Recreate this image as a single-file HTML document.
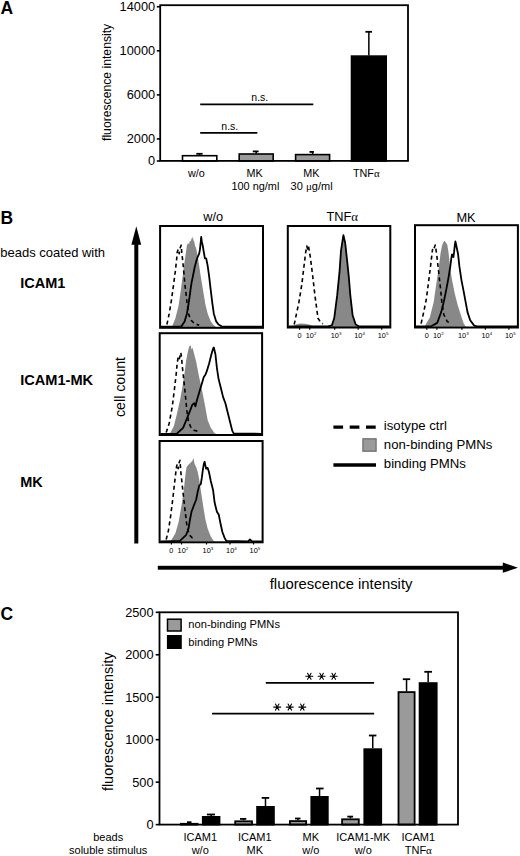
<!DOCTYPE html>
<html><head><meta charset="utf-8"><style>
html,body{margin:0;padding:0;background:#fff;}
svg{display:block;}
text{font-family:"Liberation Sans",sans-serif;fill:#000;}
</style></head><body>
<svg width="520" height="856" viewBox="0 0 520 856">
<rect width="520" height="856" fill="#fff"/>
<text x="0.5" y="13.8" font-size="17.5" text-anchor="start" font-weight="bold" >A</text>
<line x1="199.65" y1="155.2" x2="199.65" y2="153.8" stroke="#000" stroke-width="1.5" />
<line x1="196.3" y1="153.8" x2="202.6" y2="153.8" stroke="#000" stroke-width="1.8" />
<rect x="182.5" y="155.7" width="34.30" height="5.30" fill="#fff" stroke="#000" stroke-width="1.6"/>
<line x1="256.2" y1="153.5" x2="256.2" y2="151.4" stroke="#000" stroke-width="1.5" />
<line x1="252.8" y1="151.4" x2="258.6" y2="151.4" stroke="#000" stroke-width="1.8" />
<rect x="239.2" y="154.0" width="34.00" height="7.00" fill="#9a9a9a" stroke="#000" stroke-width="1.6"/>
<line x1="312.6" y1="154.1" x2="312.6" y2="151.9" stroke="#000" stroke-width="1.5" />
<line x1="309.5" y1="151.9" x2="313.9" y2="151.9" stroke="#000" stroke-width="1.8" />
<rect x="295.6" y="154.6" width="34.00" height="6.40" fill="#9a9a9a" stroke="#000" stroke-width="1.6"/>
<line x1="368.85" y1="55.6" x2="368.85" y2="31.8" stroke="#000" stroke-width="1.5" />
<line x1="365.4" y1="31.8" x2="372.0" y2="31.8" stroke="#000" stroke-width="1.8" />
<rect x="351.5" y="56.1" width="34.70" height="104.90" fill="#000" stroke="#000" stroke-width="1.6"/>
<rect x="160.2" y="5.2" width="247.80" height="155.70" fill="none" stroke="#000" stroke-width="1.8"/>
<line x1="156.8" y1="161.0" x2="160.2" y2="161.0" stroke="#000" stroke-width="1.6" />
<text x="155.2" y="165.0" font-size="12.8" text-anchor="end" >0</text>
<line x1="156.8" y1="138.96428571428572" x2="160.2" y2="138.96428571428572" stroke="#000" stroke-width="1.6" />
<text x="155.2" y="143.0" font-size="12.8" text-anchor="end" >2000</text>
<line x1="156.8" y1="94.89285714285714" x2="160.2" y2="94.89285714285714" stroke="#000" stroke-width="1.6" />
<text x="155.2" y="98.9" font-size="12.8" text-anchor="end" >6000</text>
<line x1="156.8" y1="50.82142857142857" x2="160.2" y2="50.82142857142857" stroke="#000" stroke-width="1.6" />
<text x="155.2" y="54.8" font-size="12.8" text-anchor="end" >10000</text>
<line x1="156.8" y1="6.75" x2="160.2" y2="6.75" stroke="#000" stroke-width="1.6" />
<text x="155.2" y="10.8" font-size="12.8" text-anchor="end" >14000</text>
<text transform="translate(111.4 82.4) rotate(-90)" font-size="12.2" text-anchor="middle">fluorescence intensity</text>
<line x1="200.2" y1="104.4" x2="313.3" y2="104.4" stroke="#000" stroke-width="1.9" />
<line x1="200.2" y1="132.9" x2="257.3" y2="132.9" stroke="#000" stroke-width="1.9" />
<text x="259.8" y="100.5" font-size="10.5" text-anchor="middle" >n.s.</text>
<text x="229.8" y="129.8" font-size="10.5" text-anchor="middle" >n.s.</text>
<text x="196.4" y="176.9" font-size="10.8" text-anchor="middle" >w/o</text>
<text x="254.5" y="176.9" font-size="10.8" text-anchor="middle" >MK</text>
<text x="255.4" y="189.6" font-size="10.9" text-anchor="middle" >100 ng/ml</text>
<text x="311.4" y="176.9" font-size="10.8" text-anchor="middle" >MK</text>
<text x="311.6" y="189.6" font-size="11" text-anchor="middle" >30 <tspan font-family="Liberation Serif, serif">μ</tspan>g/ml</text>
<text x="366.3" y="176.9" font-size="10.8" text-anchor="middle" >TNF<tspan font-family="Liberation Serif, serif">α</tspan></text>
<text x="0.5" y="224.2" font-size="17.5" text-anchor="start" font-weight="bold" >B</text>
<text x="0.3" y="256.9" font-size="13.0" text-anchor="start" >beads coated with</text>
<text x="20.2" y="287.8" font-size="14.5" text-anchor="start" font-weight="bold" >ICAM1</text>
<text x="20.2" y="384.9" font-size="14.6" text-anchor="start" font-weight="bold" >ICAM1-MK</text>
<text x="20.2" y="487.3" font-size="14.5" text-anchor="start" font-weight="bold" >MK</text>
<rect x="134.3" y="243" width="4" height="300.5" fill="#000"/>
<polygon points="136.3,226.3 131.4,244.8 141.2,244.8" fill="#000"/>
<rect x="157.8" y="565.8" width="346" height="3.9" fill="#000"/>
<polygon points="518,567.7 502.8,562.6 502.8,572.8" fill="#000"/>
<text transform="translate(125.3 387) rotate(-90)" font-size="14.2" text-anchor="middle">cell count</text>
<text x="341.1" y="588.7" font-size="14.85" text-anchor="middle" >fluorescence intensity</text>
<text x="213.2" y="221.2" font-size="12.8" text-anchor="middle" >w/o</text>
<text x="342.2" y="221.0" font-size="12.8" text-anchor="middle" >TNF<tspan font-family="Liberation Serif, serif">α</tspan></text>
<text x="466.0" y="221.6" font-size="12.8" text-anchor="middle" >MK</text>
<polygon points="170.5,327.0 172.3,326.0 175.4,318.3 178.5,306.0 180.8,290.6 182.8,275.2 184.6,261.4 186.2,250.6 186.9,245.2 188.0,242.9 188.9,244.2 190.0,240.6 190.8,241.4 191.5,238.3 192.3,239.1 192.9,236.0 193.5,240.6 194.2,241.4 195.1,246.0 196.2,248.3 196.9,252.2 197.7,256.8 199.2,266.0 200.8,276.8 203.1,290.6 205.4,304.5 207.7,313.7 210.8,321.4 213.8,325.2 216.0,327.0" fill="#888" stroke="none"/>
<polyline points="166.9,324.5 169.2,313.7 171.5,299.8 173.8,282.9 175.4,270.6 176.6,259.8 177.2,252.2 178.2,249.1 179.2,253.7 180.3,247.5 181.2,245.2 181.8,252.9 182.8,261.4 183.8,272.2 184.9,284.5 186.2,295.2 187.4,306.0 188.9,315.2 191.5,320.6 194.6,323.7 199.2,325.2" fill="none" stroke="#000" stroke-width="1.6" stroke-dasharray="4 3.2" stroke-linejoin="round"/>
<polyline points="161.0,326.6 181.5,326.3 184.6,321.4 186.9,313.7 188.5,304.5 190.0,293.7 191.5,282.9 193.1,275.2 194.6,267.5 196.2,261.4 197.7,256.8 199.2,253.7 200.0,249.1 200.8,241.4 201.2,236.8 201.8,241.4 202.8,246.0 203.8,252.2 204.9,258.3 206.2,258.3 207.7,266.0 209.2,276.8 210.8,290.6 212.3,302.9 213.8,313.7 216.2,321.4 218.5,324.5 221.5,326.3 262.0,326.6" fill="none" stroke="#000" stroke-width="1.8" stroke-linejoin="round"/>
<rect x="160.1" y="226" width="102.90" height="101.80" fill="none" stroke="#000" stroke-width="2"/>
<polygon points="169.5,434.2 173.8,426.3 176.9,414.0 180.0,400.2 182.3,387.8 184.6,372.5 186.2,360.2 187.7,352.5 189.2,346.3 190.8,345.5 191.5,349.4 192.6,347.8 193.8,352.5 196.2,361.7 198.5,374.0 200.8,384.8 203.1,395.5 205.4,407.8 207.7,420.2 210.8,427.8 214.6,433.2 217.0,434.2" fill="#888" stroke="none"/>
<polyline points="166.2,432.5 169.2,423.2 172.3,406.3 174.6,387.8 176.2,374.0 177.2,363.2 178.2,357.1 179.2,359.4 180.8,352.5 181.5,357.1 182.3,366.3 183.8,380.2 185.4,395.5 186.9,410.9 188.5,421.7 190.8,427.1 193.8,430.2 197.7,431.2" fill="none" stroke="#000" stroke-width="1.6" stroke-dasharray="4 3.2" stroke-linejoin="round"/>
<polyline points="160.6,433.8 176.9,433.6 183.1,427.8 186.9,418.6 190.0,410.9 192.3,404.8 194.2,403.2 195.4,406.3 196.9,400.2 199.2,392.5 201.5,384.8 203.8,377.1 205.4,374.8 206.9,370.9 209.2,363.2 211.5,354.0 213.1,348.6 213.8,347.5 215.4,354.0 216.9,367.8 218.5,378.6 220.8,387.8 223.1,397.1 225.4,403.2 227.7,412.5 230.0,421.7 232.3,430.9 233.8,433.6 261.0,433.8" fill="none" stroke="#000" stroke-width="1.8" stroke-linejoin="round"/>
<rect x="159.7" y="333.2" width="102.40" height="101.80" fill="none" stroke="#000" stroke-width="2"/>
<polygon points="170.5,541.5 175.4,533.3 178.5,522.5 181.5,505.6 183.8,490.2 185.4,474.8 186.5,467.2 187.7,465.6 189.2,464.1 190.8,462.5 192.3,461.0 193.5,457.9 194.6,464.1 196.2,467.2 197.7,471.8 199.2,479.5 200.8,490.2 203.1,505.6 205.4,519.5 207.7,528.7 210.8,536.4 213.1,540.2 215.0,541.5" fill="#888" stroke="none"/>
<polyline points="166.2,539.5 168.5,530.2 170.8,514.8 173.1,496.4 174.6,482.5 175.7,473.3 176.6,466.4 177.2,464.1 178.2,468.7 179.2,462.5 180.0,460.2 180.8,471.8 182.3,485.6 183.8,499.5 185.4,513.3 186.9,525.6 189.2,534.8 192.3,537.9 195.4,538.7" fill="none" stroke="#000" stroke-width="1.6" stroke-dasharray="4 3.2" stroke-linejoin="round"/>
<polyline points="160.5,541.3 180.0,540.8 183.1,537.9 186.2,534.8 188.5,528.7 190.0,519.5 191.5,511.8 193.8,505.6 196.2,499.5 197.7,491.8 199.2,485.6 200.8,484.1 201.8,477.9 202.8,470.2 203.8,464.1 204.6,461.8 205.4,465.6 206.2,468.7 207.7,467.9 208.9,471.8 210.8,481.0 213.1,490.2 214.6,502.5 216.9,511.8 218.8,514.8 220.3,522.5 222.3,531.8 224.6,537.9 226.2,540.8 248.0,541.3 250.0,539.5 252.0,541.3 261.7,541.3" fill="none" stroke="#000" stroke-width="1.8" stroke-linejoin="round"/>
<rect x="159.6" y="441" width="103.00" height="101.30" fill="none" stroke="#000" stroke-width="2"/>
<polygon points="331.8,327.0 334.2,318.3 337.2,295.2 339.5,272.2 341.0,250.6 343.4,235.2 345.2,243.0 347.2,261.4 348.8,276.8 350.3,295.2 352.6,315.2 355.7,324.5 358.8,327.0" fill="#888" stroke="none"/>
<polygon points="292.0,327.0 296.0,324.5 300.0,323.6 305.0,323.8 310.0,324.8 314.0,327.0" fill="#888" stroke="none"/>
<polyline points="294.2,324.5 298.8,302.9 301.8,284.5 304.2,264.5 305.7,252.2 306.8,246.0 307.6,249.0 308.5,246.0 310.3,256.8 312.6,275.2 314.9,295.2 318.0,318.3 321.0,322.9 323.0,323.7" fill="none" stroke="#000" stroke-width="1.6" stroke-dasharray="4 3.2" stroke-linejoin="round"/>
<polyline points="288.7,326.5 328.0,326.3 331.8,325.5 334.2,318.3 337.2,295.2 339.5,272.2 341.0,250.6 343.4,235.2 345.2,243.0 347.2,261.4 348.8,276.8 350.3,295.2 352.6,315.2 355.7,324.5 358.8,326.3 389.4,326.5" fill="none" stroke="#000" stroke-width="1.8" stroke-linejoin="round"/>
<rect x="287.8" y="226" width="102.50" height="101.50" fill="none" stroke="#000" stroke-width="2"/>
<polygon points="424.4,326.8 429.8,317.5 433.8,301.4 436.5,282.5 438.6,269.1 440.6,252.9 441.9,246.2 443.3,242.2 444.6,240.8 446.0,242.8 447.3,244.8 448.6,252.9 450.0,266.4 452.0,279.8 454.7,293.3 457.4,304.1 460.8,314.8 463.5,322.9 465.5,326.3 467.0,326.8" fill="#888" stroke="none"/>
<polyline points="421.1,323.6 423.7,312.1 426.4,298.7 428.5,282.5 430.5,266.4 431.8,255.6 432.5,249.6 433.2,250.9 435.2,245.0 436.5,252.9 437.9,265.0 439.2,277.1 440.6,289.3 441.9,302.7 443.9,314.8 447.3,321.6 451.3,323.6" fill="none" stroke="#000" stroke-width="1.6" stroke-dasharray="4 3.2" stroke-linejoin="round"/>
<polyline points="415.9,326.5 431.2,326.3 437.2,322.9 441.2,312.1 443.9,301.4 446.6,287.9 448.6,277.1 450.3,266.4 451.3,258.3 452.0,254.3 453.4,257.0 454.0,252.9 454.7,246.2 455.4,241.5 456.7,247.5 458.1,254.3 459.4,266.4 461.4,279.8 463.5,290.6 465.5,301.4 467.5,312.1 470.2,320.2 474.2,325.6 477.0,326.3 517.0,326.5" fill="none" stroke="#000" stroke-width="1.8" stroke-linejoin="round"/>
<rect x="415" y="225.2" width="102.90" height="102.30" fill="none" stroke="#000" stroke-width="2"/>
<line x1="171.4" y1="542.3" x2="171.4" y2="544.5" stroke="#000" stroke-width="1.2" />
<text x="171.4" y="552.9" font-size="7.3" text-anchor="middle" >0</text>
<line x1="181.5" y1="542.3" x2="181.5" y2="544.5" stroke="#000" stroke-width="1.2" />
<text x="177.6" y="552.9" font-size="7.3">10<tspan font-size="4.4" dy="-2.7">2</tspan></text>
<line x1="206.5" y1="542.3" x2="206.5" y2="544.5" stroke="#000" stroke-width="1.2" />
<text x="202.6" y="552.9" font-size="7.3">10<tspan font-size="4.4" dy="-2.7">3</tspan></text>
<line x1="230.0" y1="542.3" x2="230.0" y2="544.5" stroke="#000" stroke-width="1.2" />
<text x="226.1" y="552.9" font-size="7.3">10<tspan font-size="4.4" dy="-2.7">4</tspan></text>
<line x1="253.5" y1="542.3" x2="253.5" y2="544.5" stroke="#000" stroke-width="1.2" />
<text x="249.6" y="552.9" font-size="7.3">10<tspan font-size="4.4" dy="-2.7">5</tspan></text>
<line x1="299.6" y1="327.5" x2="299.6" y2="329.7" stroke="#000" stroke-width="1.2" />
<text x="299.6" y="338.1" font-size="7.3" text-anchor="middle" >0</text>
<line x1="309.7" y1="327.5" x2="309.7" y2="329.7" stroke="#000" stroke-width="1.2" />
<text x="305.8" y="338.1" font-size="7.3">10<tspan font-size="4.4" dy="-2.7">2</tspan></text>
<line x1="334.7" y1="327.5" x2="334.7" y2="329.7" stroke="#000" stroke-width="1.2" />
<text x="330.8" y="338.1" font-size="7.3">10<tspan font-size="4.4" dy="-2.7">3</tspan></text>
<line x1="358.20000000000005" y1="327.5" x2="358.20000000000005" y2="329.7" stroke="#000" stroke-width="1.2" />
<text x="354.3" y="338.1" font-size="7.3">10<tspan font-size="4.4" dy="-2.7">4</tspan></text>
<line x1="381.70000000000005" y1="327.5" x2="381.70000000000005" y2="329.7" stroke="#000" stroke-width="1.2" />
<text x="377.8" y="338.1" font-size="7.3">10<tspan font-size="4.4" dy="-2.7">5</tspan></text>
<line x1="426.8" y1="327.5" x2="426.8" y2="329.7" stroke="#000" stroke-width="1.2" />
<text x="426.8" y="338.1" font-size="7.3" text-anchor="middle" >0</text>
<line x1="436.9" y1="327.5" x2="436.9" y2="329.7" stroke="#000" stroke-width="1.2" />
<text x="433.0" y="338.1" font-size="7.3">10<tspan font-size="4.4" dy="-2.7">2</tspan></text>
<line x1="461.9" y1="327.5" x2="461.9" y2="329.7" stroke="#000" stroke-width="1.2" />
<text x="458.0" y="338.1" font-size="7.3">10<tspan font-size="4.4" dy="-2.7">3</tspan></text>
<line x1="485.4" y1="327.5" x2="485.4" y2="329.7" stroke="#000" stroke-width="1.2" />
<text x="481.5" y="338.1" font-size="7.3">10<tspan font-size="4.4" dy="-2.7">4</tspan></text>
<line x1="508.9" y1="327.5" x2="508.9" y2="329.7" stroke="#000" stroke-width="1.2" />
<text x="505.0" y="338.1" font-size="7.3">10<tspan font-size="4.4" dy="-2.7">5</tspan></text>
<line x1="333.4" y1="427.1" x2="376.0" y2="427.1" stroke="#000" stroke-width="3.4" stroke-dasharray="9.7 6.6"/>
<rect x="362.9" y="438.8" width="13.2" height="12.4" fill="#9a9a9a" stroke="#6a6a6a" stroke-width="1.2"/>
<line x1="333.4" y1="465.0" x2="376.0" y2="465.0" stroke="#000" stroke-width="3.4" />
<text x="383.8" y="430.0" font-size="13.2" text-anchor="start" >isotype ctrl</text>
<text x="383.8" y="449.3" font-size="13.2" text-anchor="start" >non-binding PMNs</text>
<text x="383.8" y="467.8" font-size="13.2" text-anchor="start" >binding PMNs</text>
<text x="0.5" y="619.5" font-size="17.5" text-anchor="start" font-weight="bold" >C</text>
<line x1="189.25" y1="822.9" x2="189.25" y2="822.2" stroke="#000" stroke-width="1.5" />
<line x1="187" y1="822.2" x2="191.5" y2="822.2" stroke="#000" stroke-width="1.8" />
<rect x="180.9" y="823.8" width="16.70" height="0.80" fill="#9a9a9a" stroke="#000" stroke-width="1.8"/>
<line x1="211.15" y1="816" x2="211.15" y2="814.5" stroke="#000" stroke-width="1.5" />
<line x1="206.9" y1="814.5" x2="215" y2="814.5" stroke="#000" stroke-width="1.8" />
<rect x="202.8" y="816.9" width="16.70" height="7.70" fill="#000" stroke="#000" stroke-width="1.8"/>
<line x1="243.6" y1="820.4" x2="243.6" y2="818.9" stroke="#000" stroke-width="1.5" />
<line x1="240" y1="818.9" x2="246.3" y2="818.9" stroke="#000" stroke-width="1.8" />
<rect x="235.2" y="821.3" width="16.80" height="3.30" fill="#9a9a9a" stroke="#000" stroke-width="1.8"/>
<line x1="265.5" y1="806" x2="265.5" y2="797.9" stroke="#000" stroke-width="1.5" />
<line x1="261.7" y1="797.9" x2="269.2" y2="797.9" stroke="#000" stroke-width="1.8" />
<rect x="257.1" y="806.9" width="16.80" height="17.70" fill="#000" stroke="#000" stroke-width="1.8"/>
<line x1="298.0" y1="820.2" x2="298.0" y2="818.5" stroke="#000" stroke-width="1.5" />
<line x1="295" y1="818.5" x2="300.5" y2="818.5" stroke="#000" stroke-width="1.8" />
<rect x="289.9" y="821.1" width="16.20" height="3.50" fill="#9a9a9a" stroke="#000" stroke-width="1.8"/>
<line x1="319.55" y1="796" x2="319.55" y2="788.5" stroke="#000" stroke-width="1.5" />
<line x1="316" y1="788.5" x2="323.6" y2="788.5" stroke="#000" stroke-width="1.8" />
<rect x="311.3" y="796.9" width="16.50" height="27.70" fill="#000" stroke="#000" stroke-width="1.8"/>
<line x1="350.45000000000005" y1="818.4" x2="350.45000000000005" y2="816.6" stroke="#000" stroke-width="1.5" />
<line x1="347.3" y1="816.6" x2="353.1" y2="816.6" stroke="#000" stroke-width="1.8" />
<rect x="342.1" y="819.3" width="16.70" height="5.30" fill="#9a9a9a" stroke="#000" stroke-width="1.8"/>
<line x1="372.75" y1="748.3" x2="372.75" y2="735.5" stroke="#000" stroke-width="1.5" />
<line x1="368.9" y1="735.5" x2="376.4" y2="735.5" stroke="#000" stroke-width="1.8" />
<rect x="364.3" y="749.1999999999999" width="16.90" height="75.40" fill="#000" stroke="#000" stroke-width="1.8"/>
<line x1="406.55" y1="691.2" x2="406.55" y2="679.2" stroke="#000" stroke-width="1.5" />
<line x1="402.8" y1="679.2" x2="410.2" y2="679.2" stroke="#000" stroke-width="1.8" />
<rect x="398.5" y="692.1" width="16.10" height="132.50" fill="#9a9a9a" stroke="#000" stroke-width="1.8"/>
<line x1="428.15" y1="682.2" x2="428.15" y2="671.8" stroke="#000" stroke-width="1.5" />
<line x1="424.3" y1="671.8" x2="432" y2="671.8" stroke="#000" stroke-width="1.8" />
<rect x="419.6" y="683.1" width="17.10" height="141.50" fill="#000" stroke="#000" stroke-width="1.8"/>
<rect x="159.5" y="612.3" width="298.50" height="212.30" fill="none" stroke="#000" stroke-width="1.8"/>
<line x1="155.7" y1="824.6" x2="159.5" y2="824.6" stroke="#000" stroke-width="1.6" />
<text x="153.6" y="829.0" font-size="12.8" text-anchor="end" >0</text>
<line x1="155.7" y1="782.14" x2="159.5" y2="782.14" stroke="#000" stroke-width="1.6" />
<text x="153.6" y="786.5" font-size="12.8" text-anchor="end" >500</text>
<line x1="155.7" y1="739.68" x2="159.5" y2="739.68" stroke="#000" stroke-width="1.6" />
<text x="153.6" y="744.1" font-size="12.8" text-anchor="end" >1000</text>
<line x1="155.7" y1="697.22" x2="159.5" y2="697.22" stroke="#000" stroke-width="1.6" />
<text x="153.6" y="701.6" font-size="12.8" text-anchor="end" >1500</text>
<line x1="155.7" y1="654.76" x2="159.5" y2="654.76" stroke="#000" stroke-width="1.6" />
<text x="153.6" y="659.2" font-size="12.8" text-anchor="end" >2000</text>
<line x1="155.7" y1="612.3" x2="159.5" y2="612.3" stroke="#000" stroke-width="1.6" />
<text x="153.6" y="616.7" font-size="12.8" text-anchor="end" >2500</text>
<text transform="translate(112.5 721.7) rotate(-90)" font-size="14.45" text-anchor="middle">fluorescence intensity</text>
<rect x="167.5" y="619.2" width="13.6" height="11.8" fill="#9a9a9a" stroke="#000" stroke-width="1.5"/>
<rect x="166.9" y="635" width="14.9" height="14" fill="#000"/>
<text x="188.3" y="628.4" font-size="11.15" text-anchor="start" >non-binding PMNs</text>
<text x="188.3" y="646.4" font-size="11.15" text-anchor="start" >binding PMNs</text>
<line x1="265.8" y1="682.8" x2="374.1" y2="682.8" stroke="#000" stroke-width="1.8" />
<line x1="212.1" y1="713.6" x2="374.1" y2="713.6" stroke="#000" stroke-width="1.8" />
<path d="M305.80,676.30L312.80,676.30M307.55,673.27L311.05,679.33M311.05,673.27L307.55,679.33" stroke="#000" stroke-width="1.05" stroke-linecap="round"/>
<path d="M318.10,676.30L325.10,676.30M319.85,673.27L323.35,679.33M323.35,673.27L319.85,679.33" stroke="#000" stroke-width="1.05" stroke-linecap="round"/>
<path d="M330.20,676.30L337.20,676.30M331.95,673.27L335.45,679.33M335.45,673.27L331.95,679.33" stroke="#000" stroke-width="1.05" stroke-linecap="round"/>
<path d="M273.70,707.10L280.70,707.10M275.45,704.07L278.95,710.13M278.95,704.07L275.45,710.13" stroke="#000" stroke-width="1.05" stroke-linecap="round"/>
<path d="M286.30,707.10L293.30,707.10M288.05,704.07L291.55,710.13M291.55,704.07L288.05,710.13" stroke="#000" stroke-width="1.05" stroke-linecap="round"/>
<path d="M298.80,707.10L305.80,707.10M300.55,704.07L304.05,710.13M304.05,704.07L300.55,710.13" stroke="#000" stroke-width="1.05" stroke-linecap="round"/>
<text x="108.2" y="841.3" font-size="11" text-anchor="middle" >beads</text>
<text x="108.2" y="854.0" font-size="11" text-anchor="middle" >soluble stimulus</text>
<text x="200.2" y="841.3" font-size="11" text-anchor="middle" >ICAM1</text>
<text x="200.2" y="854.0" font-size="11" text-anchor="middle" >w/o</text>
<text x="254.8" y="841.3" font-size="11" text-anchor="middle" >ICAM1</text>
<text x="254.8" y="854.0" font-size="11" text-anchor="middle" >MK</text>
<text x="310.8" y="841.3" font-size="11" text-anchor="middle" >MK</text>
<text x="310.8" y="854.0" font-size="11" text-anchor="middle" >w/o</text>
<text x="363.2" y="841.3" font-size="11" text-anchor="middle" >ICAM1-MK</text>
<text x="363.2" y="854.0" font-size="11" text-anchor="middle" >w/o</text>
<text x="418.3" y="841.3" font-size="11" text-anchor="middle" >ICAM1</text>
<text x="418.3" y="854.0" font-size="11" text-anchor="middle" >TNF<tspan font-family="Liberation Serif, serif">α</tspan></text>
</svg>
</body></html>
